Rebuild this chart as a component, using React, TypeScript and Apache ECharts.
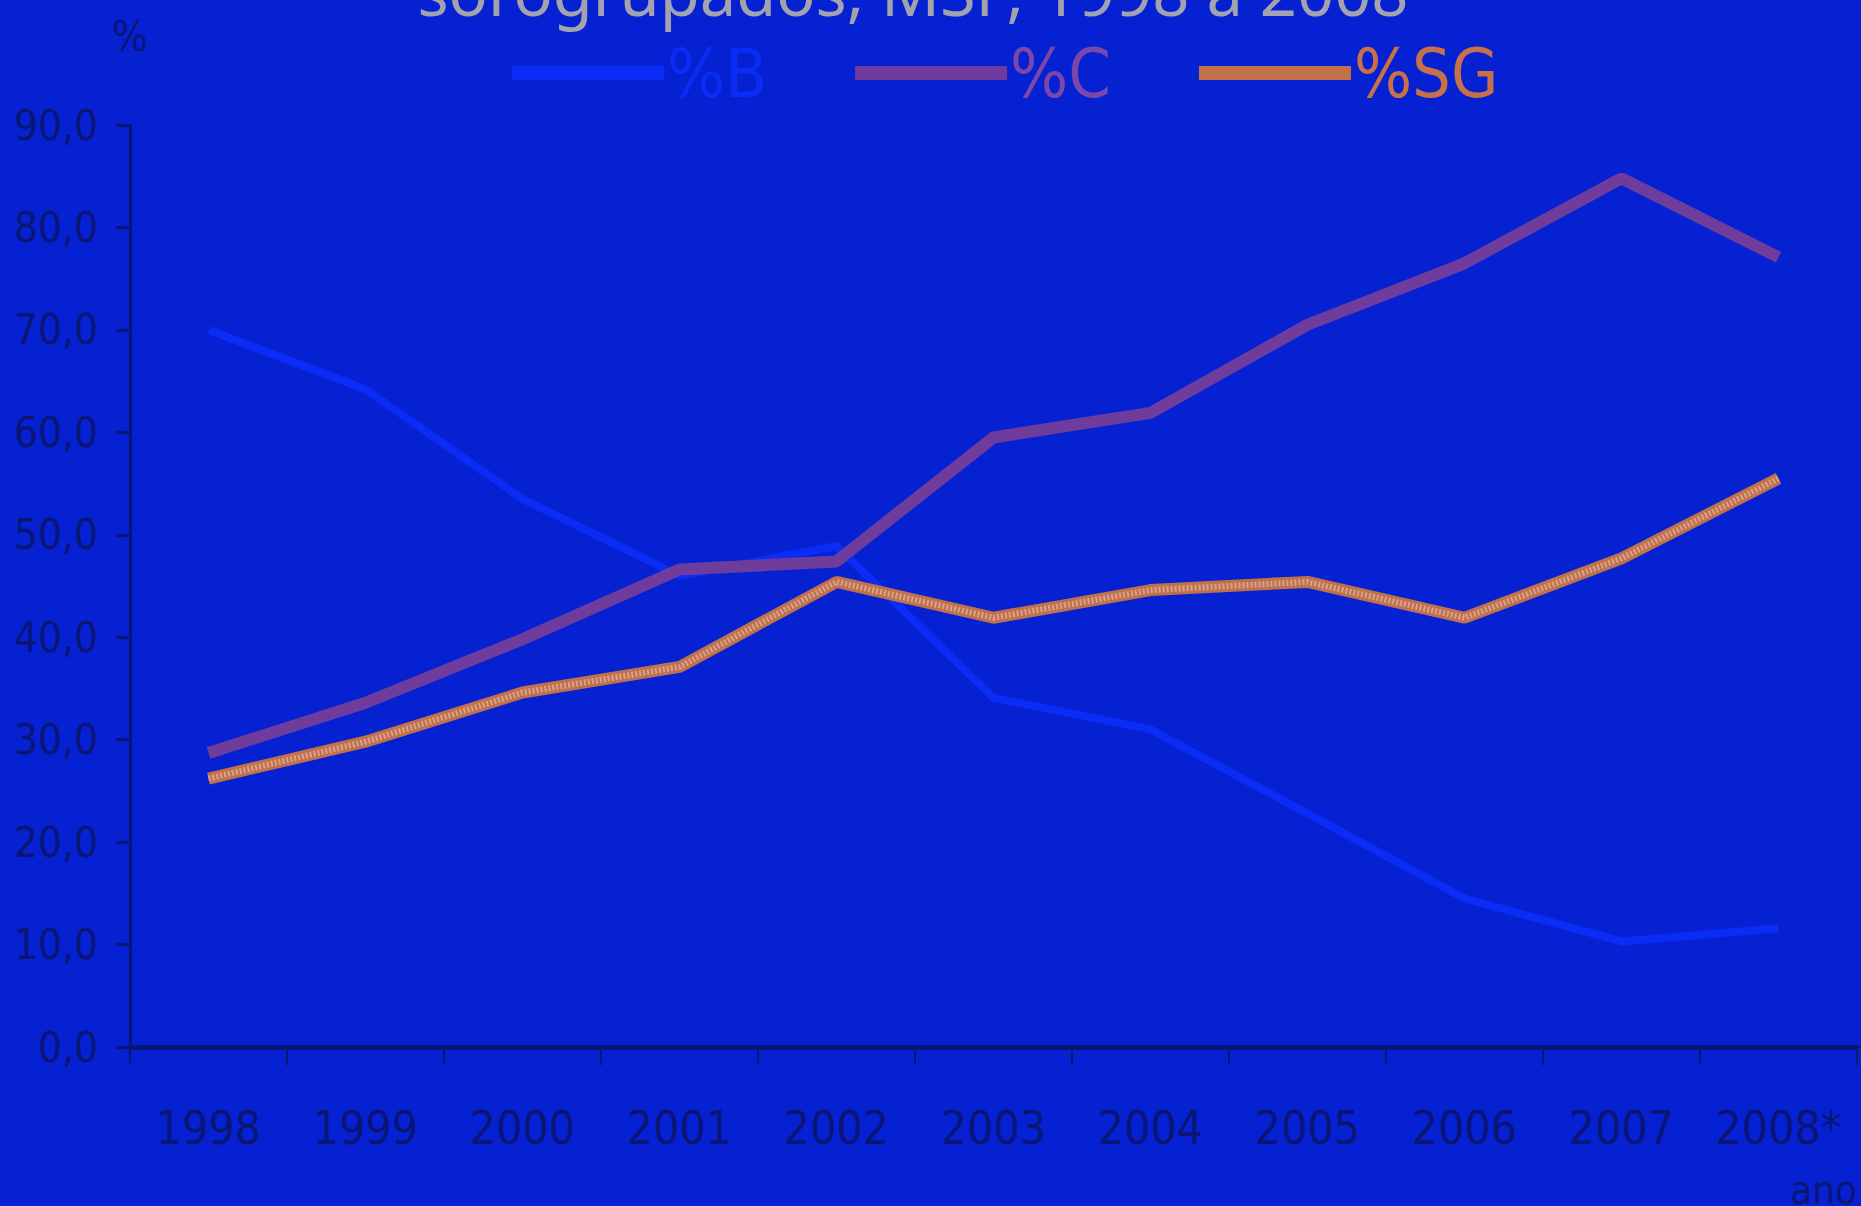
import React, { useEffect, useRef } from "react";
import * as echarts from "echarts";

const years = ["1998", "1999", "2000", "2001", "2002", "2003", "2004", "2005", "2006", "2007", "2008*"];
const pctB = [70.0, 64.2, 53.5, 46.0, 48.9, 34.1, 31.0, 22.8, 14.5, 10.3, 11.6];
const pctC = [28.7, 33.6, 39.8, 46.6, 47.4, 59.5, 61.9, 70.5, 76.5, 84.8, 77.1];
const pctSG = [26.2, 29.8, 34.6, 37.1, 45.4, 41.9, 44.6, 45.4, 41.9, 47.7, 55.5];
const seriesNames = ["%B", "%C", "%SG"];
const titleText = "sorogrupados, MSP, 1998 a 2008";

const BG = "#0621d2";
const DARK = "#0a1676";
const COL_B = "#0a2cf5";
const COL_C = "#6e3c9c";
const COL_SG = "#c0704a";
const NARROW = "'Liberation Sans Narrow', 'DejaVu Sans Condensed', 'Roboto Condensed', 'Liberation Sans', sans-serif";

export default function App() {
  const ref = useRef<HTMLDivElement>(null);
  useEffect(() => {
    if (!ref.current) return;
    const chart = echarts.init(ref.current, null, { renderer: "svg" });
    chart.setOption({
      animation: false,
      backgroundColor: BG,
      grid: { left: 130, right: 4, top: 125, bottom: 159, containLabel: false },
      legend: {
        left: 507,
        top: 34,
        itemWidth: 152,
        itemHeight: 14,
        itemGap: 88,
        icon: "rect",
        textStyle: { fontFamily: NARROW, fontSize: 68, padding: [0, 0, 0, -2] },
        data: [
          { name: seriesNames[0], textStyle: { color: COL_B } },
          { name: seriesNames[1], textStyle: { color: "#7a48a8" } },
          { name: seriesNames[2], textStyle: { color: "#c8704a" } },
        ],
      },
      graphic: [
        {
          type: "text",
          x: 913,
          y: -9,
          style: {
            text: titleText,
            fill: "#a3a3b0",
            font: "65px 'Noto Sans', 'Open Sans', sans-serif",
            textAlign: "center",
            textVerticalAlign: "middle",
          },
        },
        {
          type: "text",
          x: 1857,
          y: 1170,
          style: {
            text: "ano",
            fill: DARK,
            font: `40px ${NARROW}`,
            textAlign: "right",
            textVerticalAlign: "top",
          },
        },
      ],
      xAxis: {
        type: "category",
        data: years,
        boundaryGap: true,
        axisLine: { lineStyle: { color: DARK, width: 5 } },
        axisTick: { show: true, length: 18, lineStyle: { color: DARK, width: 2 } },
        axisLabel: { color: DARK, fontFamily: NARROW, fontSize: 46, margin: 58, interval: 0 },
        splitLine: { show: false },
      },
      yAxis: {
        type: "value",
        min: 0,
        max: 90,
        interval: 10,
        name: "%",
        nameLocation: "end",
        nameGap: 68,
        nameTextStyle: { color: DARK, fontFamily: NARROW, fontSize: 42 },
        axisLine: { show: true, lineStyle: { color: DARK, width: 3 } },
        axisTick: { show: true, length: 14, lineStyle: { color: DARK, width: 3 } },
        axisLabel: {
          color: DARK,
          fontFamily: NARROW,
          fontSize: 42,
          margin: 32,
          formatter: (v: number) => v.toFixed(1).replace(".", ","),
        },
        splitLine: { show: false },
      },
      series: [
        {
          name: seriesNames[0],
          type: "line",
          data: pctB,
          symbol: "none",
          color: COL_B,
          lineStyle: { color: COL_B, width: 8 },
        },
        {
          name: seriesNames[1],
          type: "line",
          data: pctC,
          symbol: "none",
          color: COL_C,
          lineStyle: { color: COL_C, width: 12 },
        },
        {
          name: seriesNames[2],
          type: "line",
          data: pctSG,
          symbol: "none",
          color: COL_SG,
          lineStyle: { color: COL_SG, width: 12 },
        },
        {
          name: seriesNames[2],
          type: "line",
          data: pctSG,
          symbol: "none",
          color: COL_SG,
          silent: true,
          lineStyle: { color: "#e8c4b8", width: 6, type: [2, 2], opacity: 0.6 },
        },
      ],
    });
    return () => chart.dispose();
  }, []);
  return (
    <div
      ref={ref}
      style={{ position: "fixed", left: 0, top: 0, width: 1861, height: 1206 }}
    />
  );
}
